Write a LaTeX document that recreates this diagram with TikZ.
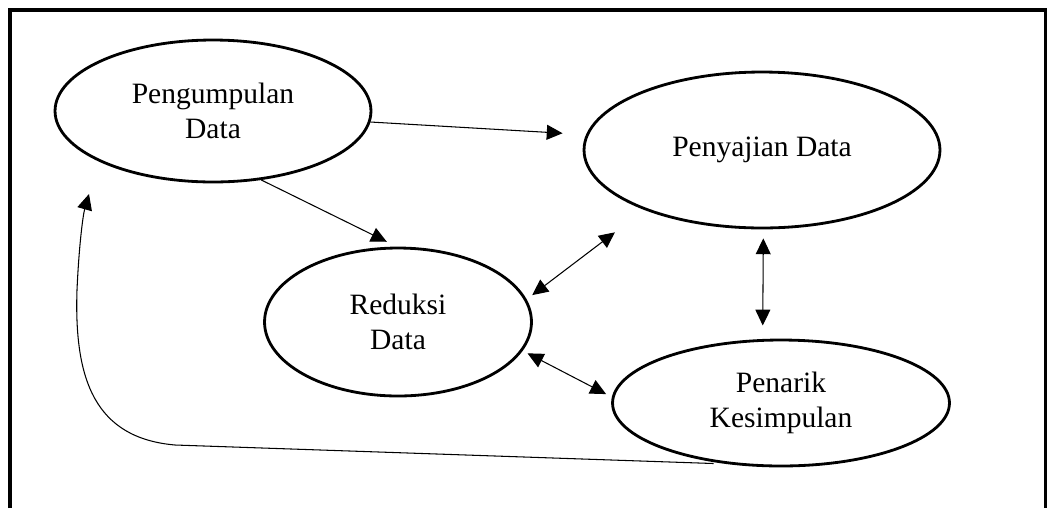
\documentclass[tikz,border=0pt]{standalone}
\usepackage{fontspec}
\setmainfont{Liberation Serif}
\usetikzlibrary{arrows.meta, shapes.geometric}

\begin{document}
\begin{tikzpicture}[
    x=0.02cm, y=-0.02cm,
    >={Triangle[length=9pt, width=8.5pt]},
    frame/.style={line width=2.4pt},
    stage/.style={draw, ellipse, line width=1.6pt, inner sep=0pt, align=center},
    flow/.style={->, line width=0.6pt},
    both/.style={<->, line width=0.6pt},
    font=\fontsize{16.8}{19.5}\selectfont
]
\useasboundingbox (0,0) rectangle (1047,508);

%-------------------------------------------------
% Frame
%-------------------------------------------------
\draw[frame] (10,508) -- (10,10) -- (1047,10);
\draw[frame] (1046,10) -- (1046,508);

%-------------------------------------------------
% Stages
%-------------------------------------------------
\node[stage, minimum width=6.32cm, minimum height=2.84cm] (kumpul) at (213,111) {Pengumpulan\\ Data};
\node[stage, minimum width=7.12cm, minimum height=3.12cm] (sajian) at (762,150) {Penyajian Data};
\node[stage, minimum width=5.34cm, minimum height=2.96cm] (reduksi) at (398,322) {Reduksi\\ Data};
\node[stage, minimum width=6.74cm, minimum height=2.52cm] (tarik) at (781,403) {Penarik\\ Kesimpulan};

%-------------------------------------------------
% Flows
%-------------------------------------------------
\draw[flow, shorten >=0.47cm] (kumpul.-4) -- (sajian.175);
\draw[flow, shorten >=0.22cm] (kumpul.-55) -- (reduksi.91);

\draw[both, shorten <=0.14cm, shorten >=0.74cm] (reduksi.10) -- (sajian.207);
\draw[both, shorten <=0.18cm, shorten >=0.27cm] (sajian.-89) -- (tarik.106);
\draw[both, shorten <=0.11cm, shorten >=0.13cm] (reduksi.-13) -- (tarik.178);

%-------------------------------------------------
% Feedback
%-------------------------------------------------
\coordinate (bend) at (175,445);
\coordinate (backtip) at (89,194);
\draw[flow, shorten <=0.25cm] (tarik.228) -- (bend)
    .. controls (95,438) and (74,380) .. (77,290)
    .. controls (79,245) and (83,215) .. (backtip);

\end{tikzpicture}
\end{document}
